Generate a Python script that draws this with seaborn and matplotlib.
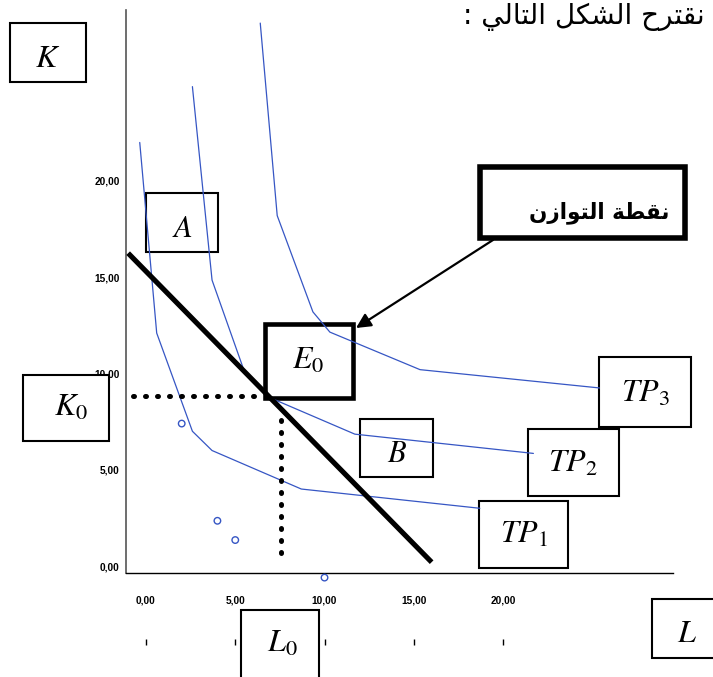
import matplotlib
matplotlib.use("Agg")
import matplotlib.pyplot as plt
from matplotlib.patches import Rectangle
import pandas as pd
import seaborn as sns

sns.set_style("white")
plt.rcParams["font.family"] = ["Liberation Sans", "DejaVu Sans"]
plt.rcParams["mathtext.fontset"] = "stix"
for key in ["text.color", "xtick.color", "ytick.color", "axes.labelcolor"]:
    plt.rcParams[key] = "black"

# isoquants: labour (L) and capital (K) for each production level
tp1_L = [-0.35, 0.6, 2.6, 3.7, 8.7, 18.7]
tp1_K = [22.0, 12.1, 7.0, 6.0, 4.0, 3.0]
tp2_L = [2.6, 3.7, 5.55, 6.8, 11.7, 21.7]
tp2_K = [24.9, 14.85, 10.0, 8.8, 6.85, 5.85]
tp3_L = [6.4, 7.35, 9.35, 10.3, 15.35, 25.4]
tp3_K = [28.2, 18.2, 13.2, 12.15, 10.2, 9.25]

# isocost (budget) line
budget_L = [-1.0, 16.0]
budget_K = [16.25, 0.2]

# guides towards the equilibrium point (K0 and L0)
guide_k0_L = [-0.73, 6.06]
guide_k0_K = [8.83, 8.83]
guide_l0_L = [7.56, 7.56]
guide_l0_K = [7.6, 0.68]

# loose observations
obs_L = [2.0, 4.0, 5.0, 10.0]
obs_K = [7.4, 2.35, 1.35, -0.6]

tick_values = [0, 5, 10, 15, 20]
tick_labels = ["0,00", "5,00", "10,00", "15,00", "20,00"]

title_text = "نقترح الشكل التالي :"
equilibrium_text = "نقطة التوازن"

# contextual forms: isolated, final, initial, medial (two entries = joins on the right only)
FORMS = {
    "ا": (0xFE8D, 0xFE8E), "ت": (0xFE95, 0xFE96, 0xFE97, 0xFE98),
    "ح": (0xFEA1, 0xFEA2, 0xFEA3, 0xFEA4), "ر": (0xFEAD, 0xFEAE),
    "ز": (0xFEAF, 0xFEB0), "ش": (0xFEB5, 0xFEB6, 0xFEB7, 0xFEB8),
    "ط": (0xFEC1, 0xFEC2, 0xFEC3, 0xFEC4), "ق": (0xFED5, 0xFED6, 0xFED7, 0xFED8),
    "ك": (0xFED9, 0xFEDA, 0xFEDB, 0xFEDC), "ل": (0xFEDD, 0xFEDE, 0xFEDF, 0xFEE0),
    "ن": (0xFEE5, 0xFEE6, 0xFEE7, 0xFEE8), "و": (0xFEED, 0xFEEE),
    "ي": (0xFEF1, 0xFEF2, 0xFEF3, 0xFEF4), "ة": (0xFE93, 0xFE94),
}


def shape_arabic(text):
    out = []
    for i, ch in enumerate(text):
        if ch not in FORMS:
            out.append(ch)
            continue
        prev = text[i - 1] if i > 0 else ""
        nxt = text[i + 1] if i + 1 < len(text) else ""
        join_prev = prev in FORMS and len(FORMS[prev]) == 4
        join_next = len(FORMS[ch]) == 4 and nxt in FORMS
        if join_prev and join_next:
            idx = 3
        elif join_prev:
            idx = 1
        elif join_next:
            idx = 2
        else:
            idx = 0
        out.append(chr(FORMS[ch][idx]))
    return "".join(reversed(out))


W, H = 713, 677
fig = plt.figure(figsize=(W / 100, H / 100), dpi=100)
AX_L, AX_R, AX_T, AX_B = 126, 673, 10, 660
ax = fig.add_axes([AX_L / W, 1 - AX_B / H, (AX_R - AX_L) / W, (AX_B - AX_T) / H])


def fig_xy(x, y):
    return x / W, 1 - y / H


blue = "#3656c4"
for L, K in [(tp1_L, tp1_K), (tp2_L, tp2_K), (tp3_L, tp3_K)]:
    sns.lineplot(x=L, y=K, sort=False, estimator=None, color=blue, lw=0.9,
                 ax=ax, zorder=4)

sns.lineplot(x=budget_L, y=budget_K, sort=False, estimator=None, color="black",
             lw=3.7, ax=ax, zorder=4.5, solid_capstyle="butt")

for L, K in [(guide_k0_L, guide_k0_K), (guide_l0_L, guide_l0_K)]:
    guide = sns.lineplot(x=L, y=K, sort=False, estimator=None, color="black",
                         lw=3.6, ax=ax, zorder=4.5)
    line = guide.lines[-1]
    line.set_dashes((0.2, 2.2))
    line.set_dash_capstyle("round")

sns.scatterplot(x=obs_L, y=obs_K, ax=ax, marker="o", s=22, facecolor="none",
                edgecolor=blue, linewidth=1.0, zorder=4, clip_on=False)

# axes frame
x_min, x_max = -1.12, 29.52
y_min, y_max = -4.88, 28.88
axis_y = -0.364
ax.set_xlim(x_min, x_max)
ax.set_ylim(y_min, y_max)
for side in ["top", "right"]:
    ax.spines[side].set_visible(False)
ax.spines["bottom"].set_position(("data", axis_y))
ax.spines["bottom"].set_color("black")
ax.spines["bottom"].set_linewidth(1.0)
ax.spines["left"].set_bounds(axis_y, y_max)
ax.spines["left"].set_color("#555555")
ax.spines["left"].set_linewidth(1.2)

tick_font = dict(family="Liberation Sans", weight="bold", size=7.3)
ax.set_xticks(tick_values)
ax.set_xticklabels(tick_labels, fontdict=tick_font)
ax.set_yticks(tick_values)
ax.set_yticklabels(tick_labels, fontdict=tick_font)
ax.set_yticks([-2.5, 2.5, 7.5, 12.5, 17.5], minor=True)
ax.tick_params(axis="x", which="major", length=0, pad=16)
ax.tick_params(axis="y", which="major", length=0, pad=4.5)
ax.tick_params(axis="y", which="minor", length=4.5, width=1.0,
               color="#555555", direction="out")
ax.set_xlabel("")
ax.set_ylabel("")

# detached tick row below the L axis
sec = ax.secondary_xaxis((AX_B - 641.5) / (AX_B - AX_T))
sec.set_xticks(tick_values)
sec.set_xticklabels([])
sec.tick_params(axis="x", length=5, width=1.0, direction="inout", color="black")
sec.spines["bottom"].set_visible(False)


def labelled_box(x0, y0, x1, y1, text, tx, ty, lw=1.5, size=23, **text_kw):
    fx0, fy1 = fig_xy(x0, y1)
    fx1, fy0 = fig_xy(x1, y0)
    ax.add_patch(Rectangle((fx0, fy1), fx1 - fx0, fy0 - fy1,
                           transform=fig.transFigure, clip_on=False,
                           facecolor="white", edgecolor="black", lw=lw,
                           zorder=3))
    tx_f, ty_f = fig_xy(tx, ty)
    ax.text(tx_f, ty_f, text, transform=fig.transFigure, ha="center",
            va="baseline", fontsize=size, zorder=6, clip_on=False,
            color="black", **text_kw)


labelled_box(10, 23, 86, 82, r"$K$", 48, 67)
labelled_box(146, 193, 218, 252, r"$A$", 182, 237, size=22)
labelled_box(23, 375, 109, 441, r"$K_0$", 71, 416)
labelled_box(265, 324, 353, 398, r"$E_0$", 308, 369, lw=3.3)
labelled_box(360, 419, 433, 477, r"$B$", 397, 462, size=22)
labelled_box(599, 357, 691, 427, r"$TP_3$", 645, 402)
labelled_box(528, 429, 619, 496, r"$TP_2$", 573, 472)
labelled_box(479, 501, 568, 568, r"$TP_1$", 524, 543)
labelled_box(241, 610, 319, 690, r"$L_0$", 282, 652)
labelled_box(652, 599, 720, 658, r"$L$", 687, 642)
labelled_box(480, 167, 685, 238, shape_arabic(equilibrium_text), 599, 218,
             lw=4.0, size=15.5, family="DejaVu Sans", weight="bold")

# arrow pointing at the equilibrium box
ax.annotate("", xy=(356, H - 328), xycoords="figure pixels",
            xytext=(493, H - 240), textcoords="figure pixels",
            arrowprops=dict(arrowstyle="-|>", color="black", lw=1.6,
                            mutation_scale=22, shrinkA=0, shrinkB=0),
            annotation_clip=False, zorder=6)

fig.text(705 / W, 1 - 24 / H, shape_arabic(title_text), ha="right",
         va="baseline", fontsize=20, family="DejaVu Sans", color="black")

fig.savefig("out.png", dpi=100)
